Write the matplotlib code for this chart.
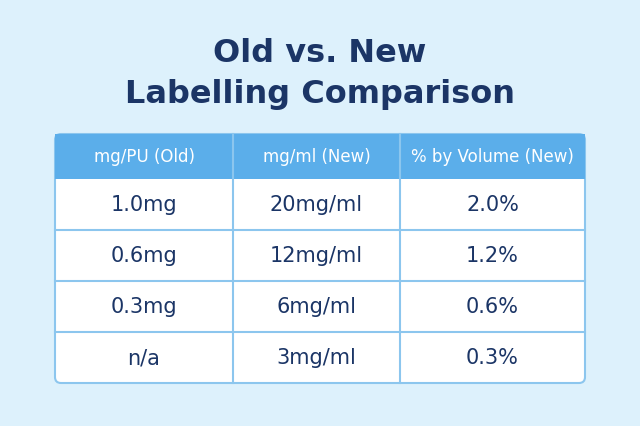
import matplotlib.pyplot as plt
from matplotlib.patches import FancyBboxPatch, Rectangle

title = "Old vs. New\nLabelling Comparison"
headers = ["mg/PU (Old)", "mg/ml (New)", "% by Volume (New)"]
col_old = ["1.0mg", "0.6mg", "0.3mg", "n/a"]
col_new = ["20mg/ml", "12mg/ml", "6mg/ml", "3mg/ml"]
col_pct = ["2.0%", "1.2%", "0.6%", "0.3%"]

bg = "#DDF1FC"
navy = "#1B3566"
head_blue = "#5BAEEA"
line_blue = "#8CC6EE"

fig = plt.figure(figsize=(6.4, 4.27), dpi=100)
fig.patch.set_facecolor(bg)
ax = fig.add_axes([0, 0, 1, 1])
ax.set_xlim(0, 640)
ax.set_ylim(427, 0)
ax.axis("off")

ax.text(320, 74, title, ha="center", va="center", fontsize=23, fontweight="bold",
        color=navy, family="DejaVu Sans", linespacing=1.4)

x0, x1 = 55, 585
cols = [55, 233, 400, 585]
y_head0, y_head1 = 135, 180
row_h = 51
n = len(col_old)
y_end = y_head1 + n * row_h

# outer table
ax.add_patch(FancyBboxPatch((x0, y_head0), x1 - x0, y_end - y_head0,
                            boxstyle="round,pad=0,rounding_size=6",
                            facecolor="white", edgecolor=line_blue, linewidth=1.5))
ax.add_patch(Rectangle((x0, y_head0), x1 - x0, y_head1 - y_head0,
                       facecolor=head_blue, edgecolor="none"))

for x in cols[1:-1]:
    ax.plot([x, x], [y_head0, y_end], color=line_blue, lw=1.5)
for i in range(1, n):
    y = y_head1 + i * row_h
    ax.plot([x0, x1], [y, y], color=line_blue, lw=1.5)

for j, h in enumerate(headers):
    cx = (cols[j] + cols[j + 1]) / 2
    ax.text(cx, (y_head0 + y_head1) / 2, h, ha="center", va="center",
            fontsize=12, color="white")

for i, row in enumerate(zip(col_old, col_new, col_pct)):
    cy = y_head1 + (i + 0.5) * row_h
    for j, v in enumerate(row):
        cx = (cols[j] + cols[j + 1]) / 2
        ax.text(cx, cy, v, ha="center", va="center", fontsize=15, color=navy)

fig.savefig("out.png", dpi=100, facecolor=bg)
